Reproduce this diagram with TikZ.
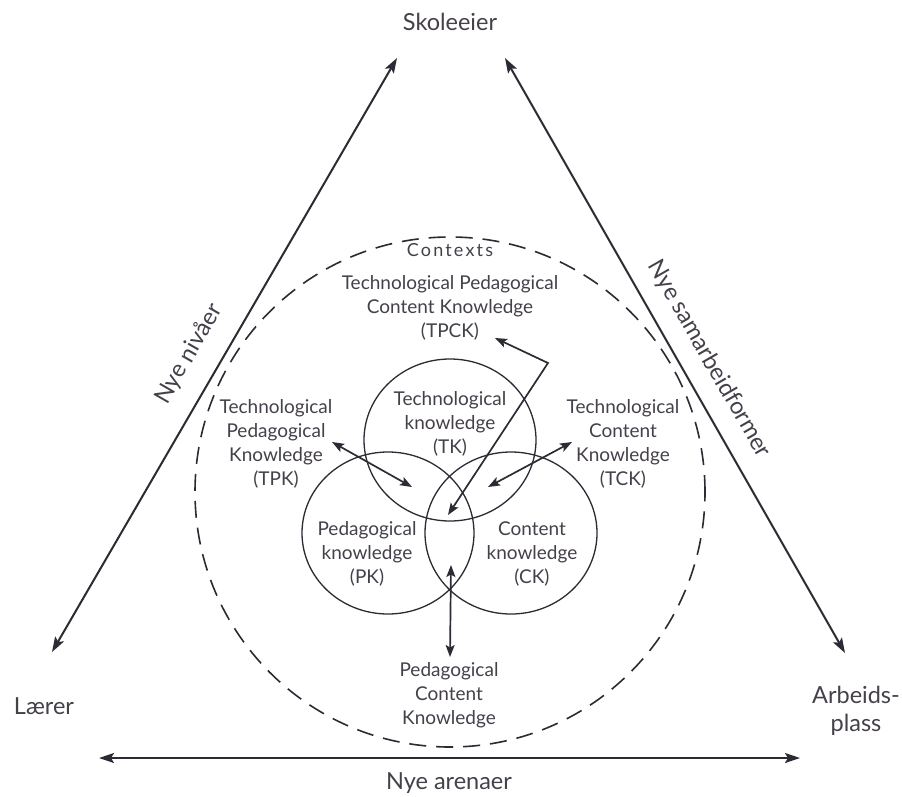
\documentclass[tikz,border=0pt]{standalone}
\usepackage{fontspec}
\setmainfont{Lato}
\usetikzlibrary{arrows.meta}
\definecolor{ink}{HTML}{2E2A33}
\definecolor{txt}{HTML}{45404A}
\begin{document}
\begin{tikzpicture}[x=1pt,y=-1pt,
  big/.style={font=\fontsize{23.5}{28}\selectfont, text=txt, align=center, inner sep=0pt},
  lbl/.style={font=\fontsize{19}{24}\selectfont, text=txt, align=center, inner sep=0pt},
  tri/.style={draw=ink, line width=2pt, {Stealth[length=15pt,width=10pt,inset=3pt]}-{Stealth[length=15pt,width=10pt,inset=3pt]}},
  innerarrow/.style={draw=ink, line width=1.7pt, {Stealth[length=12pt,width=9pt,inset=2.5pt]}-{Stealth[length=12pt,width=9pt,inset=2.5pt]}},
  ring/.style={draw=ink, line width=1.3pt},
]
\useasboundingbox[fill=white] (0,0) rectangle (902,796);

% corner labels
\node[big] (skole) at (450,22) {Skoleeier};
\node[big] (laerer) at (44,706) {Lærer};
\node[big] (arbeid) at (856,711) {Arbeids-\\plass};
\node[big] (arena) at (449,783) {Nye arenaer};

% triangle arrows
\coordinate (lTop) at (397,58);
\coordinate (lBot) at (52,652);
\coordinate (rTop) at (505,58);
\coordinate (rBot) at (845,653);
\coordinate (bL) at (99,758);
\coordinate (bR) at (800,758);
\draw[tri] (lBot) -- (lTop);
\draw[tri] (rTop) -- (rBot);
\draw[tri] (bL) -- (bR);
\node[big, rotate=60] (nivaa) at (189,354) {Nye nivåer};
\node[big, rotate=-60] (samarb) at (709,359) {Nye samarbeidformer};

% contexts circle
\draw[ink, line width=1.6pt, dash pattern=on 17pt off 10pt] (450,492) circle [radius=255pt];
\node[lbl, font=\fontsize{18}{18}\selectfont\addfontfeature{LetterSpace=12}] (ctx) at (450,250) {Contexts};

% Venn circles
\draw[ring] (450,440) ellipse [x radius=86pt, y radius=81pt];
\draw[ring] (388,533) ellipse [x radius=86pt, y radius=81pt];
\draw[ring] (511,533) ellipse [x radius=86pt, y radius=81pt];

% labels
\node[lbl] (tpck) at (450,308) {Technological Pedagogical\\Content Knowledge\\(TPCK)};
\node[lbl] (tk) at (450,424) {Technological\\knowledge\\(TK)};
\node[lbl] (tpk) at (276,444) {Technological\\Pedagogical\\Knowledge\\(TPK)};
\node[lbl] (tck) at (623,444) {Technological\\Content\\Knowledge\\(TCK)};
\node[lbl] (pk) at (367,554) {Pedagogical\\knowledge\\(PK)};
\node[lbl] (ck) at (532,554) {Content\\knowledge\\(CK)};
\node[lbl] (pck) at (449,695) {Pedagogical\\Content\\Knowledge};

% inner arrows
\coordinate (tpcA) at (448,515);
\coordinate (tpcB) at (548,363);
\coordinate (tpcC) at (495,338);
\draw[innerarrow] (tpcA) -- (tpcB) -- (tpcC);
\coordinate (tpkA) at (332,442);
\coordinate (tpkB) at (412,487);
\draw[innerarrow] (tpkA) -- (tpkB);
\coordinate (tckA) at (572,442);
\coordinate (tckB) at (488,487);
\draw[innerarrow] (tckA) -- (tckB);
\coordinate (pckA) at (451,565);
\coordinate (pckB) at (450,657);
\draw[innerarrow] (pckA) -- (pckB);
\end{tikzpicture}
\end{document}
